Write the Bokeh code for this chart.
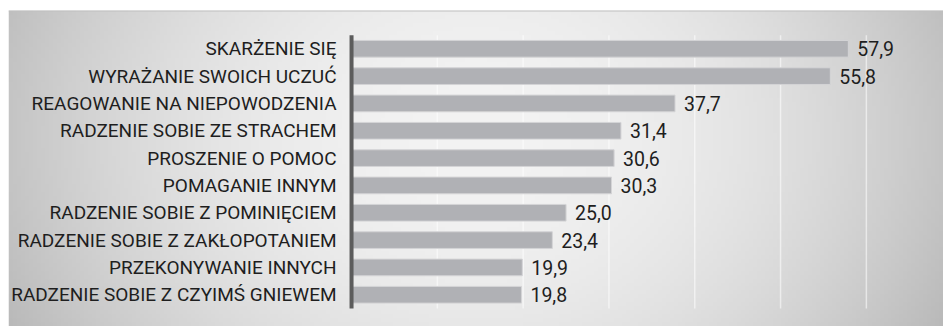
import numpy as np
from bokeh.plotting import figure
from bokeh.models import ColumnDataSource, Range1d, Span
from bokeh.core.properties import value
from bokeh.embed import file_html
from bokeh.resources import INLINE

# ---- data ----
categories = [
    "SKARŻENIE SIĘ",
    "WYRAŻANIE SWOICH UCZUĆ",
    "REAGOWANIE NA NIEPOWODZENIA",
    "RADZENIE SOBIE ZE STRACHEM",
    "PROSZENIE O POMOC",
    "POMAGANIE INNYM",
    "RADZENIE SOBIE Z POMINIĘCIEM",
    "RADZENIE SOBIE Z ZAKŁOPOTANIEM",
    "PRZEKONYWANIE INNYCH",
    "RADZENIE SOBIE Z CZYIMŚ GNIEWEM",
]
values = [57.9, 55.8, 37.7, 31.4, 30.6, 30.3, 25.0, 23.4, 19.9, 19.8]
grid_ticks = [10, 20, 30, 40, 50, 60]

# ---- layout / style ----
W, H = 943, 326
FONT = value("Roboto")
n = len(categories)
pos = [n - 1 - i for i in range(n)]  # first category at top

x_start, x_end = -39.98, 68.99
y_start, y_end = -1.161, 10.401

p = figure(width=W, height=H, output_backend="svg", toolbar_location=None,
           x_range=Range1d(x_start, x_end), y_range=Range1d(y_start, y_end),
           min_border_left=8, min_border_top=10, min_border_right=0, min_border_bottom=0,
           border_fill_color="white", outline_line_color=None)
p.axis.visible = False
p.grid.visible = False

# background gradient (radial-ish grey panel)
gw, gh = 236, 80
xs = np.linspace(0, 1, gw)
ys = np.linspace(0, 1, gh)  # 0 = bottom
X, Y = np.meshgrid(xs, ys)
dx = (X - 0.50) / 0.50
dy = (Y - 0.60) / 1.2
d = np.clip(dx ** 2 + dy ** 2, 0, 1.3)
lum = np.clip(243 - 46 * d, 0, 255).astype(np.uint32)
img = (255 << 24) | (lum << 16) | (lum << 8) | lum
p.image_rgba(image=[img.astype(np.uint32)], x=x_start, y=y_start,
             dw=x_end - x_start, dh=y_end - y_start)

p.add_layout(Span(location=y_end, dimension="width", line_color="#c0c0c0", line_width=2))

# grid lines
p.segment(x0=grid_ticks, x1=grid_ticks, y0=[-0.5] * len(grid_ticks), y1=[n - 0.5] * len(grid_ticks),
          line_color="white", line_alpha=0.55, line_width=1.5)

src = ColumnDataSource(dict(
    y=pos, v=values, cat=categories,
    lab=[f"{v:.1f}".replace(".", ",") for v in values],
    zero=[0] * n,
))

p.hbar(y="y", left=0, right="v", height=0.61, source=src,
       fill_color="#b0b1b5", line_color="#d4d4d6", line_width=1)

# axis line
p.segment(x0=[0], x1=[0], y0=[-0.5], y1=[n - 0.5], line_color="#5c5c5c", line_width=4)

p.text(x="zero", y="y", text="cat", source=src, x_offset=-15, y_offset=0,
       text_align="right", text_baseline="middle", text_font=FONT,
       text_font_size="19px", text_color="#1e1e1e")
p.text(x="v", y="y", text="lab", source=src, x_offset=9, y_offset=0,
       text_align="left", text_baseline="middle", text_font=FONT,
       text_font_size="19.5px", text_color="#1e1e1e")

open("out.html", "w").write(file_html(p, INLINE))
